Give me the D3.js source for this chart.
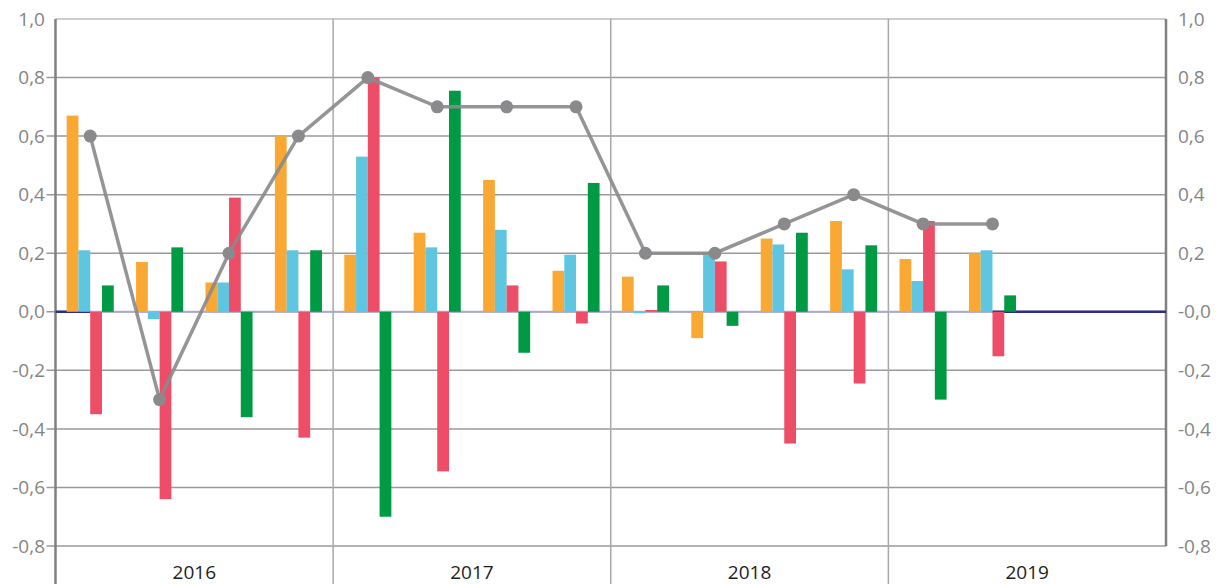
<!DOCTYPE html>
<html>
<head>
<meta charset="utf-8">
<script src="https://cdn.jsdelivr.net/npm/d3@7"></script>
<style>
  body { margin: 0; background: #fff; }
  svg { display: block; font-family: "Open Sans", sans-serif; }
</style>
</head>
<body>
<div id="chart"></div>
<script>
var years = ["2016", "2017", "2018", "2019"];
var quarters = ["Q1", "Q2", "Q3", "Q4"];
var seriesKeys = ["orange", "blue", "red", "green"];
var seriesColors = ["#f9a834", "#5fc6e2", "#ee4d68", "#009944"];

// one value per quarter, 2016Q1 .. 2019Q2
var orangeVals = [0.67, 0.17, 0.10, 0.60, 0.195, 0.27, 0.45, 0.14, 0.12, -0.09, 0.25, 0.31, 0.18, 0.20];
var blueVals   = [0.21, -0.025, 0.10, 0.21, 0.53, 0.22, 0.28, 0.195, -0.005, 0.195, 0.23, 0.145, 0.105, 0.21];
var redVals    = [-0.35, -0.64, 0.39, -0.43, 0.80, -0.545, 0.09, -0.04, 0.006, 0.172, -0.45, -0.245, 0.31, -0.152];
var greenVals  = [0.09, 0.22, -0.36, 0.21, -0.70, 0.755, -0.14, 0.44, 0.09, -0.048, 0.27, 0.227, -0.30, 0.056];
var lineVals   = [0.6, -0.3, 0.2, 0.6, 0.8, 0.7, 0.7, 0.7, 0.2, 0.2, 0.3, 0.4, 0.3, 0.3];

var yTicks = [1.0, 0.8, 0.6, 0.4, 0.2, 0.0, -0.2, -0.4, -0.6, -0.8];

var width = 1223, height = 584;
var margin = {top: 19, right: 57, bottom: 38, left: 55.5};

var slots = [];
years.forEach(function(y) { quarters.forEach(function(q) { slots.push(y + " " + q); }); });

var rows = lineVals.map(function(v, i) {
    return {slot: slots[i], orange: orangeVals[i], blue: blueVals[i], red: redVals[i], green: greenVals[i], line: v};
});

var svg = d3.select("#chart").append("svg")
    .attr("width", width)
    .attr("height", height);

var x0 = d3.scaleBand()
    .domain(slots)
    .range([margin.left, width - margin.right])
    .padding(0);

var xYear = d3.scaleBand()
    .domain(years)
    .range([margin.left, width - margin.right]);

var x1 = d3.scaleBand()
    .domain(seriesKeys)
    .range([0, x0.bandwidth()])
    .paddingInner(0)
    .paddingOuter(0.95);

var y = d3.scaleLinear()
    .domain([-0.8, 1.0])
    .range([height - margin.bottom, margin.top]);

var color = d3.scaleOrdinal(seriesKeys, seriesColors);

function fmt(v) { return d3.format(".1f")(v).replace(".", ",").replace("−", "-"); }

// horizontal grid
svg.append("g").selectAll("line")
    .data(yTicks)
    .enter().append("line")
    .attr("x1", function(d) { return d == 1.0 ? margin.left : margin.left - 9; })
    .attr("x2", width - margin.right)
    .attr("y1", function(d) { return y(d); })
    .attr("y2", function(d) { return y(d); })
    .attr("stroke", function(d) { return d == 1.0 ? "#bdbdbd" : "#9a9a9a"; })
    .attr("stroke-width", 1.5);

// year separators
svg.append("g").selectAll("line")
    .data(years.slice(1))
    .enter().append("line")
    .attr("x1", function(d) { return xYear(d); })
    .attr("x2", function(d) { return xYear(d); })
    .attr("y1", margin.top)
    .attr("y2", height)
    .attr("stroke", "#a8a8a8")
    .attr("stroke-width", 1.5);

// axis lines
svg.append("line")
    .attr("x1", margin.left).attr("x2", margin.left)
    .attr("y1", margin.top).attr("y2", height)
    .attr("stroke", "#808080").attr("stroke-width", 2.5);
svg.append("line")
    .attr("x1", width - margin.right).attr("x2", width - margin.right)
    .attr("y1", margin.top).attr("y2", y(-0.8))
    .attr("stroke", "#808080").attr("stroke-width", 2.5);

// zero line
svg.append("line")
    .attr("x1", margin.left).attr("x2", width - margin.right)
    .attr("y1", y(0)).attr("y2", y(0))
    .attr("stroke", "#a9aad2").attr("stroke-width", 2);
var lastSlot = slots[rows.length - 1];
svg.append("line")
    .attr("x1", margin.left).attr("x2", x0(slots[0]) + x1("red"))
    .attr("y1", y(0)).attr("y2", y(0))
    .attr("stroke", "#2e2d84").attr("stroke-width", 2.5);
svg.append("line")
    .attr("x1", x0(lastSlot) + x1("red")).attr("x2", width - margin.right)
    .attr("y1", y(0)).attr("y2", y(0))
    .attr("stroke", "#2e2d84").attr("stroke-width", 2.5);

// bars
var group = svg.append("g").selectAll("g")
    .data(rows)
    .enter().append("g")
    .attr("transform", function(d) { return "translate(" + x0(d.slot) + ",0)"; });

group.selectAll("rect")
    .data(function(d) { return seriesKeys.map(function(k) { return {key: k, value: d[k]}; }); })
    .enter().append("rect")
    .attr("x", function(d) { return x1(d.key); })
    .attr("width", x1.bandwidth())
    .attr("y", function(d) { return y(Math.max(0, d.value)); })
    .attr("height", function(d) { return Math.abs(y(d.value) - y(0)); })
    .attr("fill", function(d) { return color(d.key); });

// line series
var lineGen = d3.line()
    .x(function(d) { return x0(d.slot) + x0.bandwidth() / 2; })
    .y(function(d) { return y(d.line); });

svg.append("path")
    .datum(rows)
    .attr("d", lineGen)
    .attr("fill", "none")
    .attr("stroke", "#8a8a8c")
    .attr("stroke-opacity", 0.9)
    .attr("stroke-width", 3.5);

svg.append("g").selectAll("circle")
    .data(rows)
    .enter().append("circle")
    .attr("cx", function(d) { return x0(d.slot) + x0.bandwidth() / 2; })
    .attr("cy", function(d) { return y(d.line); })
    .attr("r", 6.5)
    .attr("fill", "#8a8a8c");

// tick labels
svg.append("g").selectAll("text")
    .data(yTicks)
    .enter().append("text")
    .attr("x", 45)
    .attr("y", function(d) { return y(d); })
    .attr("dy", "0.35em")
    .attr("text-anchor", "end")
    .attr("font-size", 19)
    .attr("fill", "#858585")
    .text(function(d) { return fmt(d); });

svg.append("g").selectAll("text")
    .data(yTicks)
    .enter().append("text")
    .attr("x", width - margin.right + 12)
    .attr("y", function(d) { return y(d); })
    .attr("dy", "0.35em")
    .attr("text-anchor", "start")
    .attr("font-size", 19)
    .attr("fill", "#858585")
    .text(function(d) { return d == 0 ? "-0,0" : fmt(d); });

svg.append("g").selectAll("text")
    .data(years)
    .enter().append("text")
    .attr("x", function(d) { return xYear(d) + xYear.bandwidth() / 2; })
    .attr("y", 579)
    .attr("text-anchor", "middle")
    .attr("font-size", 19)
    .attr("fill", "#1e1e1e")
    .text(function(d) { return d; });
</script>
</body>
</html>
